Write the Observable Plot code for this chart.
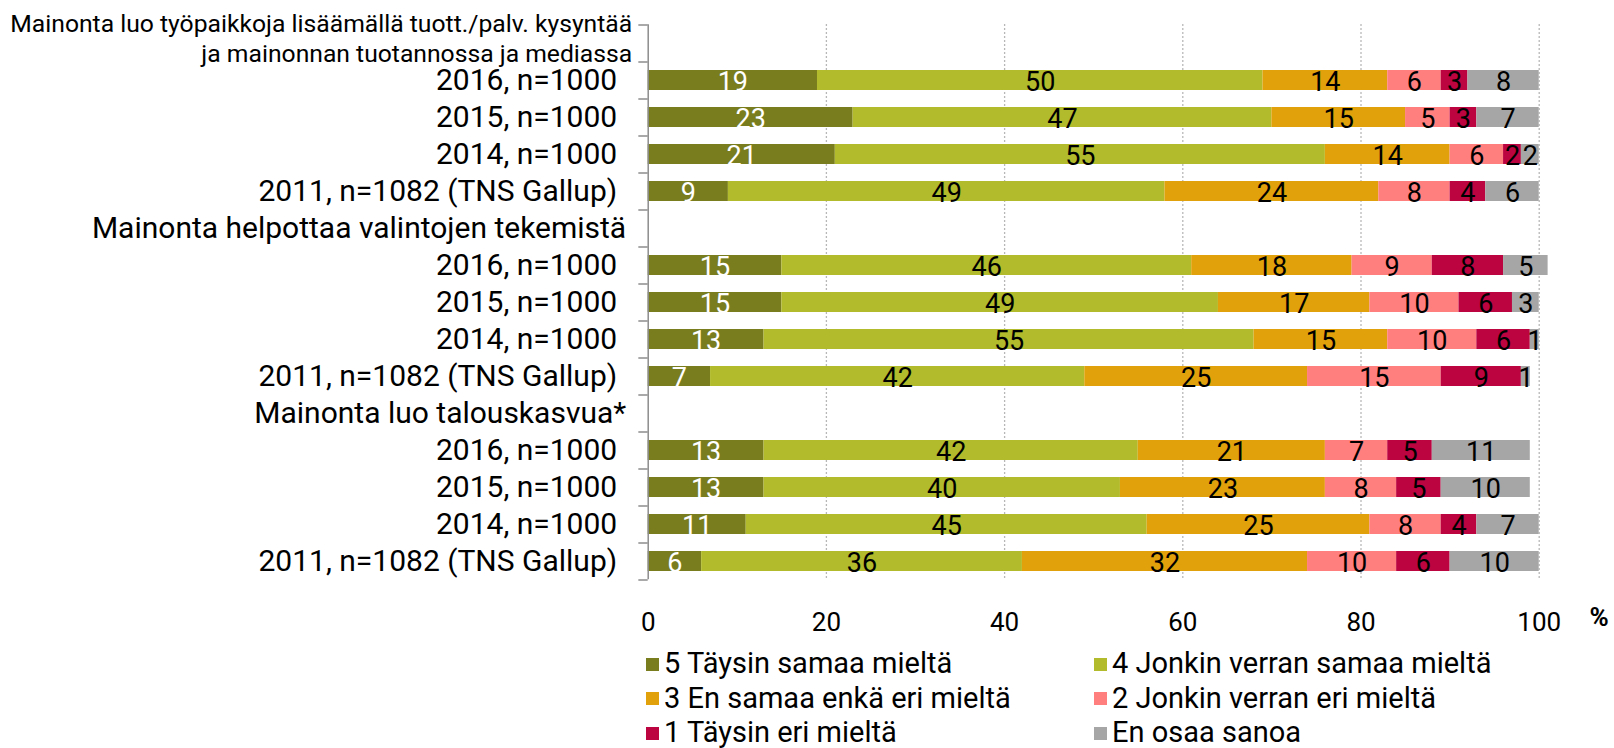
<!DOCTYPE html>
<html>
<head>
<meta charset="utf-8">
<script src="https://cdn.jsdelivr.net/npm/d3@7"></script>
<script src="https://cdn.jsdelivr.net/npm/@observablehq/plot@0.6"></script>
<style>
  html, body { margin: 0; padding: 0; background: #fff; }
  #wrap { position: relative; width: 1614px; height: 748px; font-family: Roboto, sans-serif; }
  #legend { position: absolute; left: 646px; top: 647px; display: grid;
            grid-template-columns: 448px auto; grid-auto-rows: 34.5px; font-size: 29px; line-height: 1.1; color: #000; }
  .item { display: flex; align-items: center; white-space: nowrap; }
  .sw { width: 13px; height: 13px; margin-right: 5px; flex: none; }
</style>
</head>
<body>
<div id="wrap"><div id="chart"></div><div id="legend"></div></div>
<script>
const rowLabels = [
  "Mainonta luo työpaikkoja lisäämällä tuott./palv. kysyntää\nja mainonnan tuotannossa ja mediassa",
  "2016, n=1000", "2015, n=1000", "2014, n=1000", "2011, n=1082 (TNS Gallup)",
  "Mainonta helpottaa valintojen tekemistä",
  "2016, n=1000", "2015, n=1000", "2014, n=1000", "2011, n=1082 (TNS Gallup)",
  "Mainonta luo talouskasvua*",
  "2016, n=1000", "2015, n=1000", "2014, n=1000", "2011, n=1082 (TNS Gallup)"
];
const headerRows = [0, 5, 10];
const series = ["5 Täysin samaa mieltä", "4 Jonkin verran samaa mieltä", "3 En samaa enkä eri mieltä",
                "2 Jonkin verran eri mieltä", "1 Täysin eri mieltä", "En osaa sanoa"];
const colors = ["#7a7d1e", "#b1bb2b", "#e0a10a", "#ff7f7f", "#bc0440", "#a6a6a6"];
const s5 = [null, 19, 23, 21, 9, null, 15, 15, 13, 7, null, 13, 13, 11, 6];
const s4 = [null, 50, 47, 55, 49, null, 46, 49, 55, 42, null, 42, 40, 45, 36];
const s3 = [null, 14, 15, 14, 24, null, 18, 17, 15, 25, null, 21, 23, 25, 32];
const s2 = [null, 6, 5, 6, 8, null, 9, 10, 10, 15, null, 7, 8, 8, 10];
const s1 = [null, 3, 3, 2, 4, null, 8, 6, 6, 9, null, 5, 5, 4, 6];
const s0 = [null, 8, 7, 2, 6, null, 5, 3, 1, 1, null, 11, 10, 7, 10];
const xTicks = [0, 20, 40, 60, 80, 100];

const seriesValues = [s5, s4, s3, s2, s1, s0];
const rows = d3.range(rowLabels.length);
const table = [];
seriesValues.forEach((vals, j) => rows.forEach(i => {
  if (vals[i] != null) table.push({row: i, series: series[j], j, value: vals[i]});
}));

const axisGray = "#8c8c8c";
const chart = Plot.plot({
  width: 1614,
  height: 645,
  marginLeft: 647.7,
  marginRight: 75.3,
  marginTop: 24.3,
  marginBottom: 65.7,
  style: {fontFamily: "Roboto, sans-serif", fontSize: "26px", color: "#000", background: "#fff"},
  x: {domain: [0, 100], axis: null},
  y: {domain: rows, type: "band", paddingInner: 0.45, paddingOuter: 0.225, axis: null},
  color: {domain: series, range: colors},
  marks: [
    Plot.ruleX(xTicks.filter(d => d > 0), {stroke: "#a0a0a0", strokeWidth: 1.3, strokeDasharray: "1.5,2.5"}),
    Plot.barX(table, Plot.stackX({x: "value", y: "row", fill: "series"})),
    Plot.text(table, Plot.stackX({x: "value", y: "row", text: d => d.j === 0 ? String(d.value) : "", fill: "#fff", dy: 2, fontSize: 27})),
    Plot.text(table, Plot.stackX({x: "value", y: "row", text: d => d.j !== 0 ? String(d.value) : "", fill: "#000", dy: 2, fontSize: 27})),
    Plot.ruleX([0], {stroke: axisGray, strokeWidth: 1.5}),
    Plot.ruleY(rows, {y: d => d, dy: -18.5, x1: -1.05, x2: 0, stroke: axisGray, strokeWidth: 1.5}),
    Plot.ruleY([rows[rows.length - 1]], {y: d => d, dy: 18.5, x1: -1.05, x2: 0, stroke: axisGray, strokeWidth: 1.5}),
    Plot.text(rows.filter(d => !headerRows.includes(d)), {y: d => d, text: d => rowLabels[d], frameAnchor: "left", textAnchor: "end", dx: -31, fontSize: 30, fill: "#000"}),
    Plot.text(headerRows.slice(1), {y: d => d, text: d => rowLabels[d], frameAnchor: "left", textAnchor: "end", dx: -22, fontSize: 30, fill: "#000"}),
    Plot.text([0], {y: d => d, text: d => rowLabels[d], frameAnchor: "left", textAnchor: "end", dx: -16, dy: -6, fontSize: 24.7, lineHeight: 1.2, fill: "#000"}),
    Plot.axisX(xTicks, {tickSize: 0, tickPadding: 33, fontSize: 26, fill: "#000", label: null}),
    Plot.text(["%"], {x: () => 100, text: d => d, frameAnchor: "bottom", dx: 60, dy: 46, fontSize: 26, fontWeight: "bold", fill: "#000"})
  ]
});
document.getElementById("chart").appendChild(chart);

const legend = document.getElementById("legend");
series.forEach((s, j) => {
  const it = document.createElement("div");
  it.className = "item";
  const sw = document.createElement("span");
  sw.className = "sw";
  sw.style.background = colors[j];
  const tx = document.createElement("span");
  tx.textContent = s;
  it.appendChild(sw); it.appendChild(tx);
  legend.appendChild(it);
});
</script>
</body>
</html>
